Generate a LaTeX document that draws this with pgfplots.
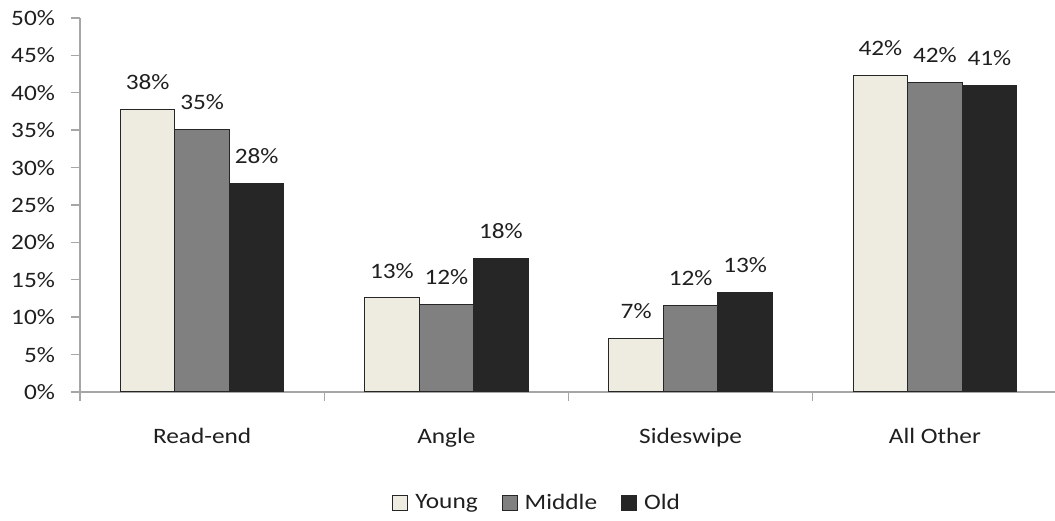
\documentclass[border=0pt]{standalone}
\usepackage{pgfplots}
\pgfplotsset{compat=1.18}
\usepackage{fontspec}
\setmainfont{Carlito}[FakeStretch=1.15]

\definecolor{young}{HTML}{EEECE1}
\definecolor{middle}{HTML}{808080}
\definecolor{old}{HTML}{262626}
\definecolor{axisgray}{HTML}{A6A6A6}
\definecolor{txt}{HTML}{1F1F1F}

\pgfplotsset{
  legbox/.style={legend image code/.code={\draw[##1, draw=black!85, line width=0.5pt] (0pt,-3.5pt) rectangle (7.5pt,4pt);}}
}

\begin{document}
\begin{tikzpicture}
\begin{axis}[
  name=ax,
  scale only axis,
  width=488.5pt, height=187pt,
  ybar=0pt, bar width=27.25pt,
  xmin=-0.5, xmax=3.5, ymin=0, ymax=50,
  xtick={0,1,2,3},
  xticklabels={Read-end, Angle, Sideswipe, All Other},
  minor xtick={-0.5,0.5,1.5,2.5,3.5},
  ytick={0,5,...,50},
  yticklabel={\pgfmathprintnumber{\tick}\%},
  /pgf/number format/assume math mode=true,
  axis x line*=bottom, axis y line*=left,
  axis line style={axisgray, line width=0.7pt, -},
  tick style={axisgray, line width=0.7pt},
  major x tick style={draw=none},
  major tick length=4.5pt, minor tick length=4.5pt,
  tick align=outside,
  tick label style={font=\fontsize{11}{13}\selectfont, text=txt},
  xticklabel style={yshift=-10pt},
  yticklabel style={xshift=-4.5pt},
  nodes near coords,
  point meta=explicit symbolic,
  nodes near coords style={font=\fontsize{11}{13}\selectfont, text=txt, anchor=south, inner sep=0pt, yshift=9.5pt},
  legend style={at={(0.469,-0.297)}, anchor=center, draw=none, fill=none,
    font=\fontsize{11}{13}\selectfont, text=txt,
    legend columns=3, /tikz/every even column/.append style={column sep=10pt},
    /tikz/every odd column/.append style={column sep=1.5pt}},
  legend cell align=left,
]
\addplot[fill=young, draw=black!85, line width=0.5pt, legbox] coordinates {
  (0,37.8) [38\%] (1,12.6) [13\%] (2,7.2) [7\%] (3,42.3) [42\%]
};
\addlegendentry{Young}
\addplot[fill=middle, draw=black!85, line width=0.5pt, legbox] coordinates {
  (0,35.1) [35\%] (1,11.7) [12\%] (2,11.6) [12\%] (3,41.4) [42\%]
};
\addlegendentry{Middle}
\addplot[fill=old, draw=black!85, line width=0.5pt, legbox] coordinates {
  (0,27.9) [28\%] (1,17.9) [18\%] (2,13.3) [13\%] (3,41.0) [41\%]
};
\addlegendentry{Old}
\end{axis}
\pgfresetboundingbox
\path ([shift={(-40pt,-64.5pt)}]ax.south west) rectangle ([shift={(-1pt,9pt)}]ax.north east);
\end{tikzpicture}
\end{document}
